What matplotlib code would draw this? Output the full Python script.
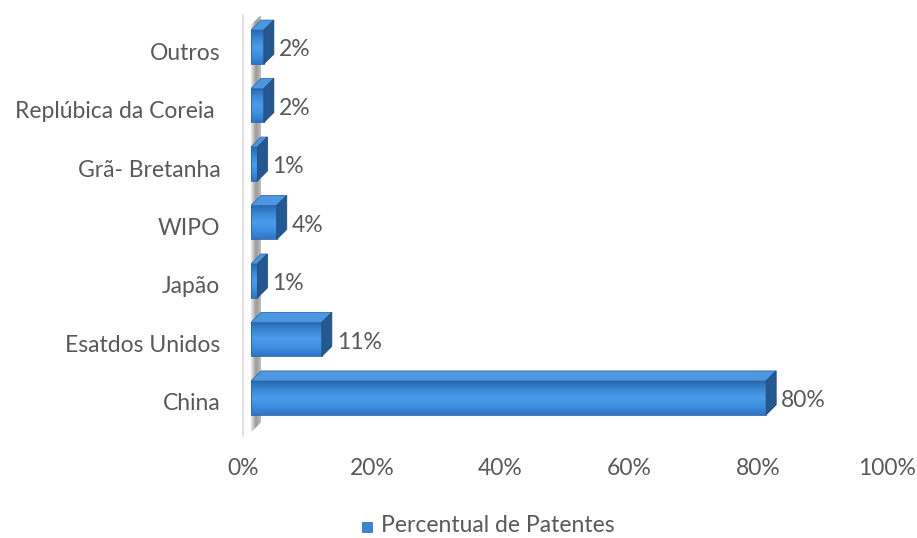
import numpy as np
import matplotlib.pyplot as plt
from matplotlib.patches import Polygon
from matplotlib.colors import LinearSegmentedColormap
import matplotlib.transforms as mtransforms

plt.rcParams['font.family'] = ['Lato', 'DejaVu Sans']

# dados
paises = ['China', 'Esatdos Unidos', 'Japão', 'WIPO', 'Grã- Bretanha',
          'Replúbica da Coreia ', 'Outros']
percentual = [0.80, 0.11, 0.01, 0.04, 0.01, 0.02, 0.02]
rotulos = ['80%', '11%', '1%', '4%', '1%', '2%', '2%']
ticks = [0, 0.2, 0.4, 0.6, 0.8, 1.0]
tick_labels = ['0%', '20%', '40%', '60%', '80%', '100%']

cor_texto = '#595959'
fs = 16.5
altura = 0.58      # altura da face frontal
dx = 0.0155        # profundidade 3D em x
dy = 0.17          # profundidade 3D em y
sobe = 0.07        # barra um pouco acima do rótulo

fig = plt.figure(figsize=(9.17, 5.38), dpi=100)
ax = fig.add_axes([0.2737, 0.1877, 0.7023, 0.7825])
ax.set_xlim(0, 1)
ax.set_ylim(-0.6, 6.6)

grad_frente = LinearSegmentedColormap.from_list(
    'frente', ['#2a68ad', '#3b88d8', '#4a9be9', '#3f8fdf', '#2f74c4'])
grad_parede = LinearSegmentedColormap.from_list(
    'parede', ['#ececec', '#9a9a9a', '#bdbdbd'])


def preenche(poly, cmap, extent, vertical=True):
    g = np.linspace(0, 1, 64).reshape(-1, 1) if vertical else np.linspace(0, 1, 64).reshape(1, -1)
    im = ax.imshow(g, cmap=cmap, extent=extent, aspect='auto', origin='upper', zorder=poly.get_zorder())
    ax.add_patch(poly)
    im.set_clip_path(poly)


# parede lateral (faixa cinza atrás das barras)
yb, yt = -0.6 + 0.08, 6.45
parede = Polygon([(0, yb), (dx, yb + dy), (dx, yt + dy), (0, yt)],
                 closed=True, facecolor='none', edgecolor='none', zorder=1)
preenche(parede, grad_parede, [0, dx, yb, yt + dy], vertical=False)
ax.plot([-0.0124, -0.0124], [-0.58, 6.62], color='#dcdcdc', lw=1.2,
        clip_on=False, zorder=0)

for i, (v, txt) in enumerate(zip(percentual, rotulos)):
    y0 = i + sobe - altura / 2
    y1 = i + sobe + altura / 2
    frente = Polygon([(0, y0), (v, y0), (v, y1), (0, y1)], closed=True,
                     facecolor='none', edgecolor='#2a64a6', lw=0.6, zorder=3)
    preenche(frente, grad_frente, [0, v, y0, y1])
    topo = Polygon([(0, y1), (v, y1), (v + dx, y1 + dy), (dx, y1 + dy)],
                   closed=True, facecolor='#4d97e0', edgecolor='#2f6cb0',
                   lw=0.6, zorder=3)
    ax.add_patch(topo)
    lado = Polygon([(v, y0), (v + dx, y0 + dy), (v + dx, y1 + dy), (v, y1)],
                   closed=True, facecolor='#25588f', edgecolor='#1f4c7d',
                   lw=0.6, zorder=3)
    ax.add_patch(lado)
    ax.text(v + dx + 0.008, i + 0.02, txt, ha='left', va='center',
            fontsize=fs, color=cor_texto)

ax.set_xlim(0, 1)
ax.set_ylim(-0.6, 6.6)
ax.set_yticks(range(len(paises)))
ax.set_yticklabels(paises, fontsize=fs, color=cor_texto)
ax.set_xticks(ticks)
ax.set_xticklabels(tick_labels, fontsize=fs, color=cor_texto)
ax.tick_params(length=0)
ax.tick_params(axis='y', pad=22)
ax.tick_params(axis='x', pad=15)
desloc = mtransforms.ScaledTranslation(-8 / 100, 0, fig.dpi_scale_trans)
for lab in ax.get_xticklabels():
    lab.set_transform(lab.get_transform() + desloc)
for s in ax.spines.values():
    s.set_visible(False)

# legenda
fig.patches.append(plt.Rectangle((362 / 917, 1 - 532 / 538), 10 / 917, 10 / 538,
                                 transform=fig.transFigure, facecolor='#3a86d6',
                                 edgecolor='#2a64a6', lw=0.5))
fig.text(381 / 917, 1 - 526 / 538, 'Percentual de Patentes', ha='left',
         va='center', fontsize=fs, color=cor_texto)

fig.savefig('out.png', dpi=100)
